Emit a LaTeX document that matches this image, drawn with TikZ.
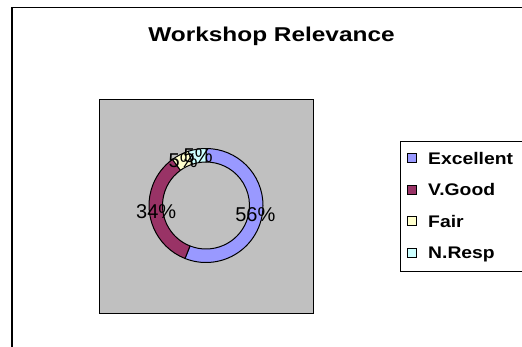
\documentclass[tikz,border=0pt]{standalone}
\usepackage{fontspec}
\setmainfont{Liberation Sans}
\definecolor{cexc}{HTML}{9999FF}
\definecolor{cvg}{HTML}{993366}
\definecolor{cfair}{HTML}{FFFFCC}
\definecolor{cnr}{HTML}{CCFFFF}
\definecolor{plotgray}{HTML}{C0C0C0}
\tikzset{
  seg/.style={draw=black, line width=1pt, line join=round},
  pct/.style={inner sep=0pt, font=\fontsize{20}{24}\selectfont},
  legsq/.style={draw=black, line width=1pt, minimum size=9pt, inner sep=0pt},
  legtxt/.style={anchor=base west, inner sep=0pt, font=\bfseries\fontsize{16.8}{20}\selectfont},
}
\begin{document}
\begin{tikzpicture}[x=1pt,y=1pt]
\useasboundingbox (0,0) rectangle (522,346);
\clip (0,0) rectangle (522,346);
\fill[white] (0,0) rectangle (522,346);
% outer chart frame (cut off at right and bottom)
\draw[line width=1.5pt] (12,-5) -- (12,338.5) -- (530,338.5);
% title
\node[anchor=base, inner sep=0pt, font=\bfseries\fontsize{20}{24}\selectfont] (title) at (271.5,304.5) {\scalebox{1.22}[1]{Workshop Relevance}};
% plot area
\draw[fill=plotgray, line width=1.3pt] (99.3,32.7) rectangle (313.3,246.7);
% ring
\begin{scope}[shift={(206,140.5)}]
  \draw[seg, fill=cexc] (90:57) arc[start angle=90, end angle=-111.6, radius=57] -- (-111.6:43.5) arc[start angle=-111.6, end angle=90, radius=43.5] -- cycle;
  \draw[seg, fill=cvg] (-111.6:57) arc[start angle=-111.6, end angle=-234, radius=57] -- (-234:43.5) arc[start angle=-234, end angle=-111.6, radius=43.5] -- cycle;
  \draw[seg, fill=cfair] (-234:57) arc[start angle=-234, end angle=-252, radius=57] -- (-252:43.5) arc[start angle=-252, end angle=-234, radius=43.5] -- cycle;
  \draw[seg, fill=cnr] (-252:57) arc[start angle=-252, end angle=-270, radius=57] -- (-270:43.5) arc[start angle=-270, end angle=-252, radius=43.5] -- cycle;
  \node[pct] (lexc) at (-10.8:50.25) {56\%};
  \node[pct] (lvg) at (-172.8:50.25) {34\%};
  \node[pct] (lfair) at (117:50.25) {5\%};
  \node[pct] (lnr) at (99:50.25) {5\%};
\end{scope}
% legend
\draw[line width=1.3pt] (400.7,74.3) rectangle (530,204.3);
\node[legsq, fill=cexc] (sq1) at (412,188) {};
\node[legsq, fill=cvg] (sq2) at (412,156.4) {};
\node[legsq, fill=cfair] (sq3) at (412,124.8) {};
\node[legsq, fill=cnr] (sq4) at (412,93.2) {};
\node[legtxt] (t1) at (428,182) {\scalebox{1.15}[1]{Excellent}};
\node[legtxt] (t2) at (428,150.4) {\scalebox{1.15}[1]{V.Good}};
\node[legtxt] (t3) at (428,118.8) {\scalebox{1.15}[1]{Fair}};
\node[legtxt] (t4) at (428,87.2) {\scalebox{1.15}[1]{N.Resp}};
\end{tikzpicture}
\end{document}
